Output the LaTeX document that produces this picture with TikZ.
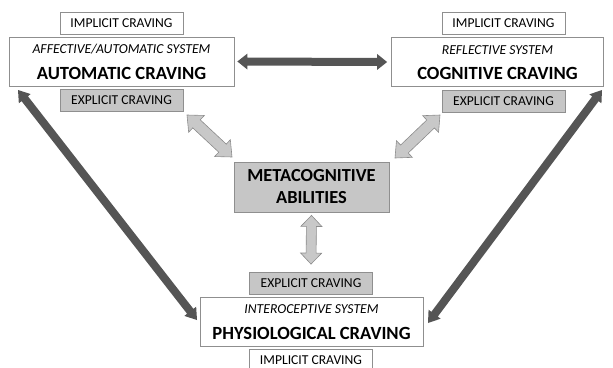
\documentclass[tikz,border=0pt]{standalone}
\usepackage{fontspec}
\setmainfont{Carlito}
\usetikzlibrary{calc}
\definecolor{darkarr}{HTML}{555555}
\definecolor{lightarr}{HTML}{C8C8C8}
\definecolor{lightedge}{HTML}{8C8C8C}
\definecolor{boxedge}{HTML}{8F8F8F}
\definecolor{greyfill}{HTML}{C6C6C6}
\tikzset{
  mainbox/.style={draw=boxedge, fill=white, line width=0.8pt, minimum width=#1, minimum height=49pt, inner sep=0pt},
  smallbox/.style={draw=boxedge, fill=white, line width=0.8pt, minimum width=123pt, minimum height=22pt, inner sep=0pt, font=\fontsize{13.6}{15}\selectfont},
  greybox/.style={smallbox, fill=greyfill},
  systxt/.style={font=\fontsize{13.7}{15}\selectfont\itshape},
  cravtxt/.style={font=\fontsize{18.6}{20}\selectfont\bfseries},
  darkstyle/.style={fill=darkarr, draw=none},
  lightstyle/.style={fill=lightarr, draw=lightedge, line width=0.6pt}
}
% #1 style, #2 tip A, #3 tip B, #4 half shaft, #5 half head, #6 head length
\newcommand{\blockarr}[6]{%
  \path[#1] (#2)
   -- ($(#2)!#6!(#3)!#5!90:(#3)$)
   -- ($(#2)!#6!(#3)!#4!90:(#3)$)
   -- ($(#3)!#6!(#2)!#4!-90:(#2)$)
   -- ($(#3)!#6!(#2)!#5!-90:(#2)$)
   -- (#3)
   -- ($(#3)!#6!(#2)!#5!90:(#2)$)
   -- ($(#3)!#6!(#2)!#4!90:(#2)$)
   -- ($(#2)!#6!(#3)!#4!-90:(#3)$)
   -- ($(#2)!#6!(#3)!#5!-90:(#3)$)
   -- cycle;}
\begin{document}
\begin{tikzpicture}[x=1pt,y=-1pt]
\useasboundingbox (0,0) rectangle (613,367);
\clip (0,0) rectangle (613,367);
% top-left group
\node[smallbox] (impA) at (121.5,23) {IMPLICIT CRAVING};
\node[mainbox=225pt] (autoB) at (121.5,61.5) {};
\node[systxt] (autoS) at (121.5,49) {AFFECTIVE/AUTOMATIC SYSTEM};
\node[cravtxt] (autoC) at (121.5,73) {AUTOMATIC CRAVING};
\node[greybox] (expA) at (121.5,100) {EXPLICIT CRAVING};
% top-right group
\node[smallbox] (impC) at (503.5,23.5) {IMPLICIT CRAVING};
\node[mainbox=212pt] (cogB) at (497.5,62) {};
\node[systxt] (cogS) at (497.5,50) {REFLECTIVE SYSTEM};
\node[cravtxt] (cogC) at (497.5,73) {COGNITIVE CRAVING};
\node[greybox] (expC) at (503.5,101) {EXPLICIT CRAVING};
% metacognitive
\node[draw=boxedge, fill=greyfill, line width=0.8pt, minimum width=155pt, minimum height=50pt, inner sep=0pt,
      align=center, font=\fontsize{18.4}{22}\selectfont\bfseries] (meta) at (311.5,187) {METACOGNITIVE\\ABILITIES};
% bottom group
\node[greybox] (expP) at (311,283.5) {EXPLICIT CRAVING};
\node[mainbox=223pt] (phyB) at (311.5,322) {};
\node[systxt] (phyS) at (311.5,309) {INTEROCEPTIVE SYSTEM};
\node[cravtxt] (phyC) at (311.5,333) {PHYSIOLOGICAL CRAVING};
\node[smallbox] (impP) at (311,360) {IMPLICIT CRAVING};
% arrow end points
\coordinate (h1) at ($(autoB.east)+(3,0)$);
\coordinate (h2) at ($(cogB.west)+(-4,0)$);
\coordinate (dl1) at (18,90);
\coordinate (dl2) at (197,320);
\coordinate (dr1) at (602,90);
\coordinate (dr2) at (428,323);
\coordinate (ll1) at (187,115);
\coordinate (ll2) at (232,157);
\coordinate (lr1) at (440,115);
\coordinate (lr2) at (395,158);
\coordinate (v1) at ($(meta.south)+(0,3)$);
\coordinate (v2) at ($(expP.north)+(0,-8)$);
% dark arrows
\blockarr{darkstyle}{h1}{h2}{4pt}{8pt}{10pt}
\blockarr{darkstyle}{dl1}{dl2}{4pt}{7.5pt}{11pt}
\blockarr{darkstyle}{dr1}{dr2}{4pt}{7.5pt}{11pt}
% light arrows
\blockarr{lightstyle}{ll1}{ll2}{5.5pt}{11.5pt}{13pt}
\blockarr{lightstyle}{lr1}{lr2}{5.5pt}{11.5pt}{13pt}
\blockarr{lightstyle}{v1}{v2}{5pt}{10.5pt}{11pt}
\end{tikzpicture}
\end{document}
